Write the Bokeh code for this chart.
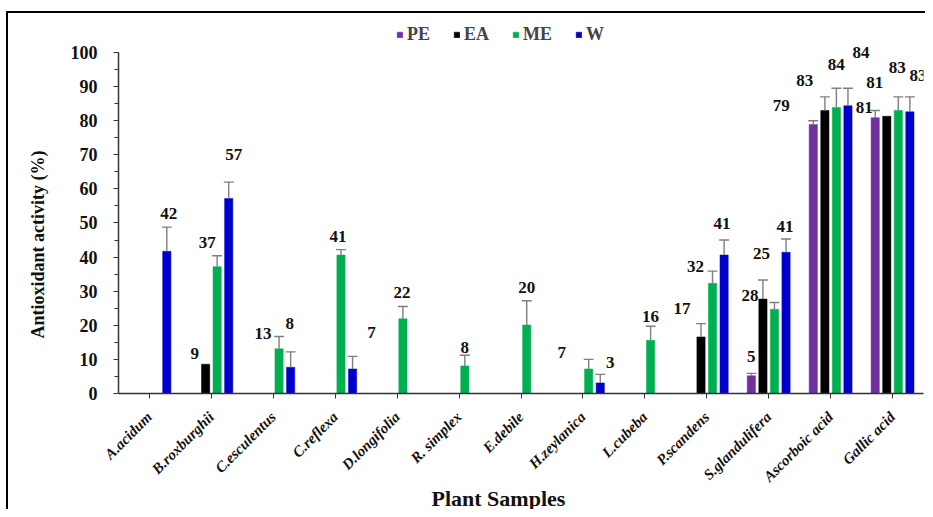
import math
from bokeh.plotting import figure
from bokeh.models import (ColumnDataSource, FactorRange, Range1d, SingleIntervalTicker,
                          Legend, LegendItem, Title)
from bokeh.transform import dodge
from bokeh.core.properties import value
from bokeh.embed import file_html
from bokeh.resources import INLINE

nan = float("nan")

categories = ["A.acidum", "B.roxburghii", "C.esculentus", "C.reflexa", "D.longifolia",
              "R. simplex", "E.debile", "H.zeylanica", "L.cubeba", "P.scandens",
              "S.glandulifera", "Ascorboic acid", "Gallic acid"]
series = ["PE", "EA", "ME", "W"]

pe_values = [nan, nan, nan, nan, nan, nan, nan, nan, nan, nan, 5.2, 78.9, 80.9]
ea_values = [nan, 8.6, nan, nan, nan, nan, nan, nan, nan, 16.6, 27.7, 83.0, 81.3]
me_values = [nan, 37.2, 13.1, 40.6, 21.9, 8.1, 20.1, 7.2, 15.6, 32.3, 24.7, 83.9, 83.0]
w_values = [41.7, 57.2, 7.7, 7.2, nan, nan, nan, 3.1, nan, 40.6, 41.4, 84.4, 82.6]

pe_err = [nan, nan, nan, nan, nan, nan, nan, nan, nan, nan, 0.7, 1.1, 2.1]
ea_err = [nan, 0.0, nan, nan, nan, nan, nan, nan, nan, 3.9, 5.6, 4.0, 0.0]
me_err = [nan, 3.2, 3.6, 1.6, 3.6, 3.1, 7.1, 2.8, 4.1, 3.6, 2.0, 5.6, 4.0]
w_err = [7.1, 4.8, 4.5, 3.7, nan, nan, nan, 2.5, nan, 4.4, 3.9, 5.1, 4.4]

# ---- styling / layout (not data) ----
colors = {"PE": "#7030A0", "EA": "#000000", "ME": "#00B050", "W": "#0000CC"}
offsets = {"PE": -0.28, "EA": -0.093, "ME": 0.093, "W": 0.28}   # in category units
BAR_W = 0.133
CAT_PX = 61.92
Y_PX = 3.41
FONT = "Liberation Serif"
# pixel nudges of data labels relative to the top of each error bar (dx, dy; dy<0 = up)
label_nudge = {
    "PE": {10: (0, -17), 11: (-32, -15), 12: (-11, -3)},
    "EA": {1: (-11, -11), 9: (-19, -15), 10: (-13, 16), 11: (-20, -16), 12: (-12, -34)},
    "ME": {1: (-10, -13), 2: (-16, -3), 3: (-3, -13), 4: (-1, -14), 5: (0, -8), 6: (0, -13),
           7: (-27, -7), 8: (0, -10), 9: (-17, -5), 10: (-13, -49), 11: (0, -24), 12: (-1, -29)},
    "W": {0: (2, -14), 1: (5, -28), 2: (-1, -28), 3: (19, -24), 7: (10, -12), 9: (-2, -17),
          10: (-1, -13), 11: (13, -36), 12: (8, -21)},
}

vals = {"PE": pe_values, "EA": ea_values, "ME": me_values, "W": w_values}
errs = {"PE": pe_err, "EA": ea_err, "ME": me_err, "W": w_err}

p = figure(x_range=FactorRange(*categories, range_padding=0),
           y_range=Range1d(0, 111.73),
           width=925, height=509, output_backend="svg", toolbar_location=None,
           min_border_left=118, min_border_right=2, min_border_top=12, min_border_bottom=116)
# thin black frame line on the left and top of the chart area (drawn by CSS behind a transparent canvas)
p.styles = {
    "background-color": "white",
    "background-image": "linear-gradient(black, black), linear-gradient(black, black)",
    "background-size": "2px 100%, 100% 2px",
    "background-position": "6px 11px, 6px 11px",
    "background-repeat": "no-repeat, no-repeat",
}
p.border_fill_alpha = 0
p.background_fill_alpha = 0
p.outline_line_color = None
p.xgrid.visible = False
p.ygrid.visible = False

renderers = {}
for s in series:
    cats, tops, labels, ly, lx = [], [], [], [], []
    ecats, ebase, etop = [], [], []
    for i, c in enumerate(categories):
        v = vals[s][i]
        if v != v:
            continue
        e = errs[s][i]
        e = 0.0 if e != e else e
        cats.append(c)
        tops.append(v)
        labels.append(str(int(round(v))))
        dx, dy = label_nudge[s].get(i, (0, -13))
        lx.append(offsets[s] * CAT_PX + dx)
        ly.append(v + e - dy / Y_PX)
        if e > 0:
            ecats.append(c)
            ebase.append(v)
            etop.append(v + e)
    src = ColumnDataSource(dict(cat=cats, top=tops, label=labels, ly=ly, lx=lx))
    r = p.vbar(x=dodge("cat", offsets[s], range=p.x_range), top="top", width=BAR_W,
               source=src, fill_color=colors[s], line_color=colors[s], line_width=0.5)
    renderers[s] = r
    esrc = ColumnDataSource(dict(cat=ecats, base=ebase, etop=etop))
    p.segment(x0=dodge("cat", offsets[s], range=p.x_range), y0="base",
              x1=dodge("cat", offsets[s], range=p.x_range), y1="etop",
              source=esrc, line_color="#7F7F7F", line_width=1.4)
    p.segment(x0=dodge("cat", offsets[s] - 0.08, range=p.x_range), y0="etop",
              x1=dodge("cat", offsets[s] + 0.08, range=p.x_range), y1="etop",
              source=esrc, line_color="#7F7F7F", line_width=1.4)
    p.text(x="cat", y="ly", text="label", x_offset="lx", source=src,
           text_align="center", text_baseline="middle", text_color="#111111",
           text_font=value(FONT), text_font_size="17px", text_font_style="bold")

# axes
p.yaxis.ticker = SingleIntervalTicker(interval=10, num_minor_ticks=2)
p.yaxis.bounds = (0, 100)
for ax in (p.xaxis[0], p.yaxis[0]):
    ax.axis_line_color = "#333333"
    ax.axis_line_width = 1.5
    ax.major_tick_line_color = "#333333"
    ax.minor_tick_line_color = "#333333"
    ax.major_tick_in = 0
    ax.major_tick_out = 5
    ax.minor_tick_in = 0
    ax.minor_tick_out = 4
    ax.major_label_text_font = FONT
    ax.major_label_text_font_style = "bold"
    ax.major_label_text_color = "#111111"
p.yaxis.major_label_text_font_size = "18px"
p.yaxis.major_label_standoff = 16
p.xaxis.major_label_text_font_size = "15px"
p.xaxis.major_label_text_font_style = "bold italic"
p.xaxis.major_label_orientation = math.pi / 4
p.xaxis.major_label_standoff = 16

# axis titles
p.add_layout(Title(text="Antioxidant activity (%)", align="left", offset=55, standoff=40,
                   text_font=FONT, text_font_size="18px", text_font_style="bold",
                   text_color="#111111"), "left")
p.add_layout(Title(text="Plant Samples", align="left", offset=313, standoff=-20,
                   text_font=FONT, text_font_size="22px", text_font_style="bold",
                   text_color="#111111"), "below")

legend = Legend(items=[LegendItem(label=s, renderers=[renderers[s]]) for s in series],
                orientation="horizontal", location=(278, 348), padding=0, margin=0,
                spacing=23, glyph_width=7, glyph_height=7, label_standoff=4,
                label_height=16, label_text_font=FONT, label_text_font_size="18px",
                label_text_font_style="bold", background_fill_alpha=0,
                border_line_color=None)
p.add_layout(legend)

open("out.html", "w").write(file_html(p, INLINE))
